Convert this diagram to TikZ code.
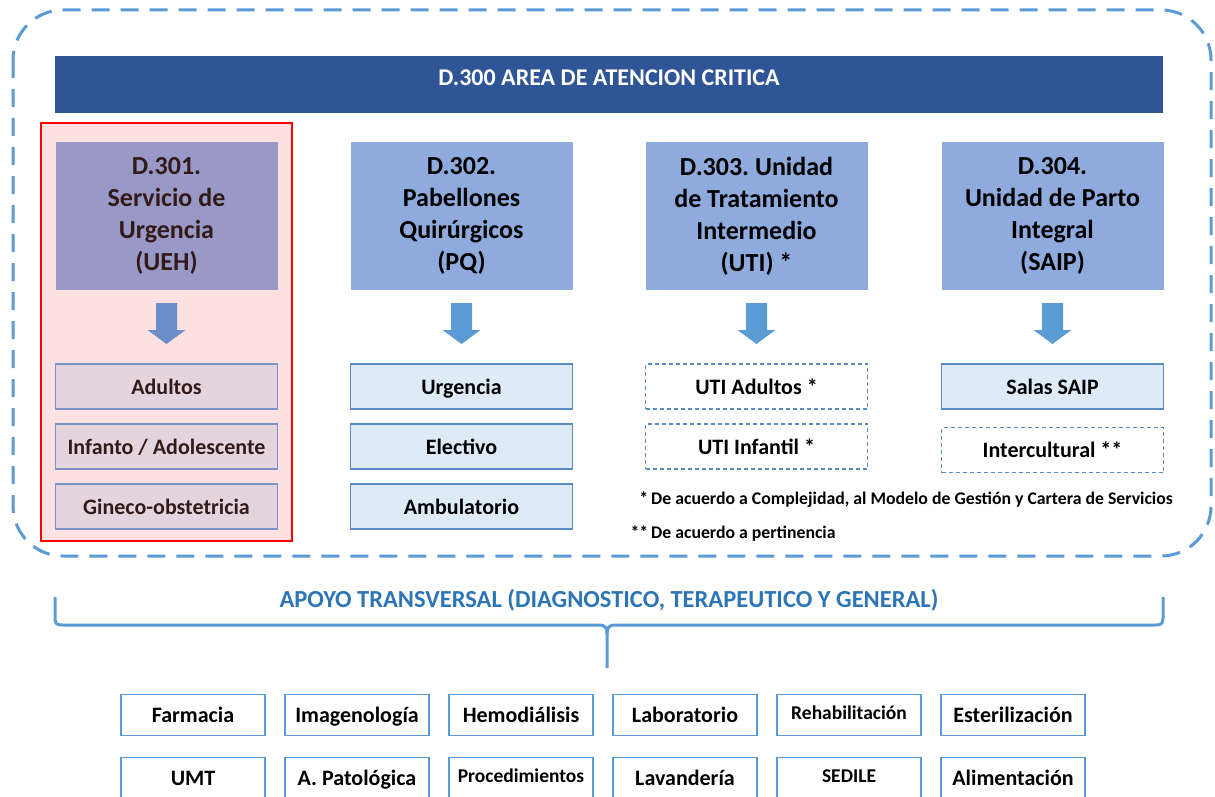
\documentclass[tikz,border=0pt]{standalone}
\usepackage{fontspec}
\setmainfont{Carlito}
\frenchspacing
\definecolor{framedash}{HTML}{5B9BD5}
\definecolor{titlebar}{HTML}{2F5597}
\definecolor{headpurple}{HTML}{9999C7}
\definecolor{headblue}{HTML}{8FAADC}
\definecolor{pinkbg}{HTML}{FFE1E1}
\definecolor{pinksub}{HTML}{E3D4DE}
\definecolor{pinkline}{HTML}{7B91C9}
\definecolor{arrowdim}{HTML}{6C8EC8}
\definecolor{arrowblue}{HTML}{5B9BD5}
\definecolor{bluesub}{HTML}{DEEBF7}
\definecolor{blueline}{HTML}{5A8AC6}
\definecolor{bracetext}{HTML}{2E75B6}
\definecolor{darktext}{HTML}{331A1A}
\tikzset{
  headbox/.style={fill=headblue, minimum width=222pt, minimum height=148pt,
    inner sep=0pt, align=center, text=black,
    font=\fontsize{26}{32}\selectfont\bfseries},
  subbox/.style={draw=blueline, line width=1.5pt, fill=bluesub,
    minimum width=222pt, minimum height=45pt, inner sep=0pt,
    text height=16pt, text depth=1pt,
    font=\fontsize{22}{24}\selectfont\bfseries},
  dashbox/.style={draw=blueline, line width=1.3pt, dash pattern=on 4pt off 3pt,
    minimum width=222pt, minimum height=45pt, inner sep=0pt,
    text height=16pt, text depth=1pt,
    font=\fontsize{22}{24}\selectfont\bfseries},
  supbox/.style={draw=framedash, line width=1.8pt, fill=white,
    minimum width=144pt, minimum height=41pt, inner sep=0pt,
    text height=16pt, text depth=1pt,
    font=\fontsize{22}{24}\selectfont\bfseries},
  smallsup/.style={font=\fontsize{19.5}{22}\selectfont\bfseries,
    text height=12pt, text depth=3.5pt},
  note/.style={anchor=base west, inner sep=0pt,
    font=\fontsize{17.75}{20}\selectfont\bfseries},
  blockdown/.pic={
    \path[pic actions] (-10.5,0) -- (10.5,0) -- (10.5,27) -- (19,27)
      -- (0,41) -- (-19,27) -- (-10.5,27) -- cycle;
  }
}
\begin{document}
\begin{tikzpicture}[x=1pt, y=-1pt]
\useasboundingbox (0,0) rectangle (1215,797);
\clip (0,0) rectangle (1215,797);

% dashed frame around the critical-care area
\draw[framedash, line width=3pt, dash pattern=on 18pt off 11pt, rounded corners=50pt]
  (13,10) rectangle (1211,556);

% area title bar
\node[fill=titlebar, minimum width=1108pt, minimum height=57pt, inner sep=0pt]
  (area) at (609,85) {};
\node[text=white, inner sep=0pt, font=\fontsize{24}{26}\selectfont\bfseries]
  (areatitle) at (609,78) {D.300 AREA DE ATENCION CRITICA};

% highlighted emergency column
\node[draw=red, line width=2pt, fill=pinkbg, minimum width=251pt,
  minimum height=418pt, inner sep=0pt] (hl) at (166.5,332) {};

% unit headers
\node[headbox, fill=headpurple, text=darktext] (u301) at (166.5,216)
  {D.301.\\Servicio de\\Urgencia\\(UEH)};
\node[headbox] (u302) at (461.5,216) {D.302.\\Pabellones\\Quirúrgicos\\(PQ)};
\node[headbox] (u303) at (756.5,216) {D.303. Unidad\\de Tratamiento\\Intermedio\\(UTI) *};
\node[headbox] (u304) at (1052.5,216) {D.304.\\Unidad de Parto\\Integral\\(SAIP)};

% block arrows under each header
\pic[fill=arrowdim] at (166.5,303) {blockdown};
\pic[fill=arrowblue] at (461.5,303) {blockdown};
\pic[fill=arrowblue] at (756.5,303) {blockdown};
\pic[fill=arrowblue] at (1052.5,303) {blockdown};

% D.301 sub-units
\node[subbox, fill=pinksub, draw=pinkline, text=darktext] (s11) at (166.5,386.5) {Adultos};
\node[subbox, fill=pinksub, draw=pinkline, text=darktext] (s12) at (166.5,446.5) {Infanto / Adolescente};
\node[subbox, fill=pinksub, draw=pinkline, text=darktext] (s13) at (166.5,506.5) {Gineco-obstetricia};

% D.302 sub-units
\node[subbox] (s21) at (461.5,386.5) {Urgencia};
\node[subbox] (s22) at (461.5,446.5) {Electivo};
\node[subbox] (s23) at (461.5,506.5) {Ambulatorio};

% D.303 sub-units
\node[dashbox] (s31) at (756.5,386.5) {UTI Adultos *};
\node[dashbox] (s32) at (756.5,446.5) {UTI Infantil *};

% D.304 sub-units
\node[subbox] (s41) at (1052.5,386.5) {Salas SAIP};
\node[dashbox] (s42) at (1052.5,450) {Intercultural **};

% footnotes
\node[note] (n1) at (651,504) {\llap{*\,}De acuerdo a Complejidad, al Modelo de Gestión y Cartera de Servicios};
\node[note] (n2) at (651,538) {\llap{**\,}De acuerdo a pertinencia};

% transversal support brace
\coordinate (bl) at (55,597);
\coordinate (br) at (1163,597);
\coordinate (bt) at (607,668);
\draw[framedash, line width=3pt, line join=round]
  (bl) -- (55,618) .. controls (55,624) and (57,625) .. (63,625)
  -- (598,625) .. controls (605,625) and (607,627) .. (607,634) -- (bt);
\draw[framedash, line width=3pt, line join=round]
  (br) -- (1163,618) .. controls (1163,624) and (1161,625) .. (1155,625)
  -- (616,625) .. controls (609,625) and (607,627) .. (607,634);
\node[text=bracetext, font=\fontsize{24.5}{26}\selectfont\bfseries, inner sep=0pt]
  (apoyo) at (609,600) {APOYO TRANSVERSAL (DIAGNOSTICO, TERAPEUTICO Y GENERAL)};

% support services
\node[supbox] (b11) at (193,715) {Farmacia};
\node[supbox] (b12) at (357,715) {Imagenología};
\node[supbox] (b13) at (521,715) {Hemodiálisis};
\node[supbox] (b14) at (685,715) {Laboratorio};
\node[supbox, smallsup] (b15) at (849,715) {Rehabilitación};
\node[supbox] (b16) at (1013,715) {Esterilización};
\node[supbox] (b21) at (193,778) {UMT};
\node[supbox] (b22) at (357,778) {A. Patológica};
\node[supbox, smallsup] (b23) at (521,778) {Procedimientos};
\node[supbox] (b24) at (685,778) {Lavandería};
\node[supbox, smallsup] (b25) at (849,778) {SEDILE};
\node[supbox] (b26) at (1013,778) {Alimentación};
\end{tikzpicture}
\end{document}
